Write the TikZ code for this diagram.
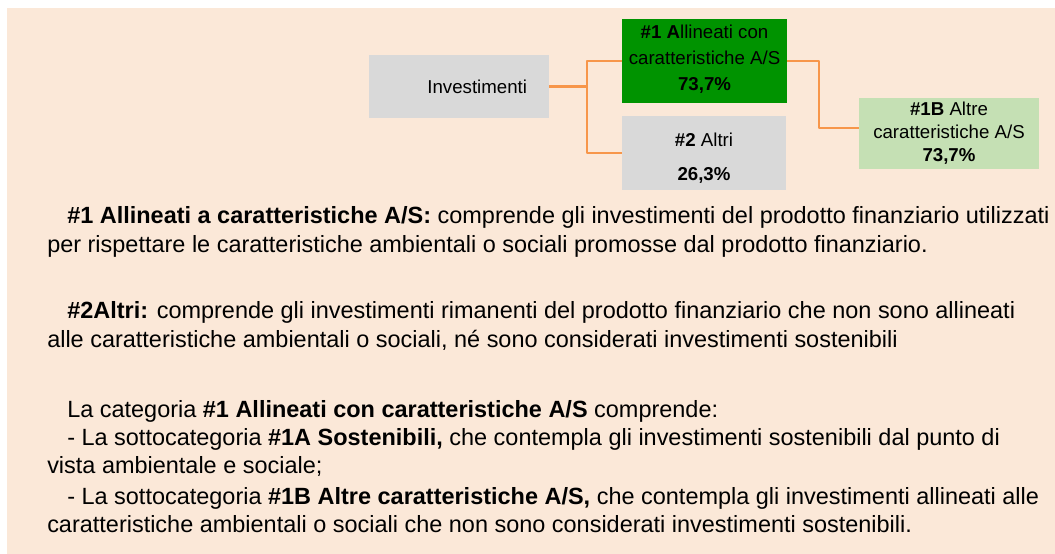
\documentclass[tikz,border=0pt]{standalone}
\usepackage{fontspec}
\setmainfont{Liberation Sans}
\definecolor{peach}{HTML}{FBE8D8}
\definecolor{boxgray}{HTML}{D9D9D9}
\definecolor{boxgreen}{HTML}{009300}
\definecolor{palegreen}{HTML}{C5E0B4}
\definecolor{linkorange}{HTML}{F7964A}
\begin{document}
\begin{tikzpicture}[line join=bevel,
  box/.style={inner sep=0pt,align=center,font=\fontsize{14bp}{19.5bp}\selectfont},
  link/.style={draw=linkorange,line width=1.8bp},
  para/.style={anchor=base west,inner sep=0pt,font=\fontsize{17.6bp}{21bp}\selectfont}]
\useasboundingbox (0bp,0bp) rectangle (791.25bp,415.5bp);
\fill [peach] (5.25bp,0bp) rectangle (791.25bp,409.5bp);
%%
\node (inv) at (344.25bp,350.6bp) [box,fill=boxgray,minimum width=135bp,minimum height=47.25bp,text width=102bp,align=right] {Investimenti};
  \node (n1) at (528.4bp,369.75bp) [box,fill=boxgreen,minimum width=123.75bp,minimum height=63bp] {\textbf{\#1 A}llineati con\\caratteristiche A/S\\\textbf{73,7\%}\rule[-5.5bp]{0pt}{5.5bp}};
  \node (n2) at (528bp,300.75bp) [box,fill=boxgray,minimum width=123bp,minimum height=55.5bp] {\rule{0pt}{18bp}\textbf{\#2} Altri\\[6bp]\textbf{26,3\%}};
  \node (n1b) at (711.75bp,315.4bp) [box,fill=palegreen,minimum width=135bp,minimum height=53.25bp,font=\fontsize{14bp}{17.25bp}\selectfont] {\textbf{\#1B} Altre\\caratteristiche A/S\\\textbf{73,7\%}};
  \coordinate (split) at (440.25bp,350.6bp);
  \coordinate (bend) at (614.25bp,369.75bp);
  \coordinate (n1bin) at ([yshift=4bp]n1b.west);
  \draw [link] (inv.east) -- (inv.east -| split);
  \draw [link] (n1.west) -| (split |- n2.west) -- (n2.west);
  \draw [link] (n1.east) -| (bend |- n1bin) -- (n1bin);
%
\node (def1a) at (50.25bp,247.5bp) [para] {\textbf{\#1 Allineati a caratteristiche A/S:} comprende gli investimenti del prodotto finanziario utilizzati};
  \node (def1b) at (35.25bp,225.75bp) [para] {per rispettare le caratteristiche ambientali o sociali promosse dal prodotto finanziario.};
  \node (def2a) at (50.25bp,176.25bp) [para] {\textbf{\#2Altri:} comprende gli investimenti rimanenti del prodotto finanziario che non sono allineati};
  \node (def2b) at (35.25bp,154.5bp) [para] {alle caratteristiche ambientali o sociali, né sono considerati investimenti sostenibili};
  \node (cat) at (50.25bp,102bp) [para] {La categoria \textbf{\#1 Allineati con caratteristiche A/S} comprende:};
  \node (sub1a) at (50.25bp,81bp) [para] {- La sottocategoria \textbf{\#1A Sostenibili,} che contempla gli investimenti sostenibili dal punto di};
  \node (sub1a2) at (35.25bp,60bp) [para] {vista ambientale e sociale;};
  \node (sub1b) at (50.25bp,37.5bp) [para] {- La sottocategoria \textbf{\#1B Altre caratteristiche A/S,} che contempla gli investimenti allineati alle};
  \node (sub1b2) at (35.25bp,16.5bp) [para] {caratteristiche ambientali o sociali che non sono considerati investimenti sostenibili.};
%
\end{tikzpicture}
\end{document}
